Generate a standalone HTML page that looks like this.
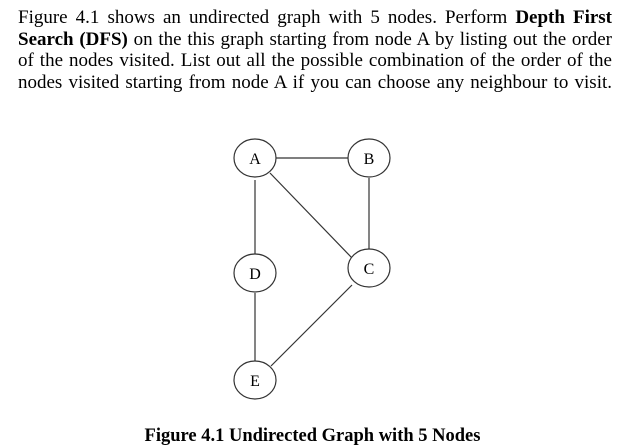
<!DOCTYPE html>
<html><head><style>
body{margin:0;width:625px;height:448px;background:#fff;font-family:"Liberation Serif",serif;color:#000;overflow:hidden}
.p{position:absolute;left:18px;top:7px;width:594px;font-size:19px;line-height:21.7px;text-align:justify;text-align-last:justify;white-space:nowrap}
.p span{display:block}
.cap{position:absolute;top:426px;left:0;width:625px;text-align:center;font-weight:bold;font-size:18.5px;white-space:nowrap}
</style></head><body>
<div class="p"><span>Figure 4.1 shows an undirected graph with 5 nodes. Perform <b>Depth First</b></span><span><b>Search (DFS)</b> on the this graph starting from node A by listing out the order</span><span>of the nodes visited. List out all the possible combination of the order of the</span><span>nodes visited starting from node A if you can choose any neighbour to visit.</span></div>
<svg width="625" height="448" style="position:absolute;left:0;top:0" font-family="Liberation Serif,serif" font-size="16">
<g stroke="#333" stroke-width="1.2" fill="none">
<line x1="276" y1="158" x2="348" y2="158"/>
<line x1="369" y1="178" x2="369" y2="250"/>
<line x1="270" y1="173" x2="352" y2="258"/>
<line x1="255" y1="180" x2="255" y2="254"/>
<line x1="255" y1="293" x2="255" y2="361"/>
<line x1="352" y1="285" x2="271" y2="366"/>
<ellipse cx="255" cy="158" rx="21" ry="19" fill="#fff"/>
<ellipse cx="369" cy="158" rx="21" ry="19" fill="#fff"/>
<ellipse cx="369" cy="268" rx="21" ry="19" fill="#fff"/>
<ellipse cx="255" cy="273" rx="21" ry="19" fill="#fff"/>
<ellipse cx="255" cy="380" rx="21" ry="19" fill="#fff"/>
</g>
<g text-anchor="middle" fill="#000">
<text x="255" y="164">A</text><text x="369" y="164">B</text>
<text x="369" y="274">C</text><text x="255" y="279">D</text><text x="255" y="386">E</text>
</g>
</svg>
<div class="cap">Figure 4.1 Undirected Graph with 5 Nodes</div>
</body></html>
